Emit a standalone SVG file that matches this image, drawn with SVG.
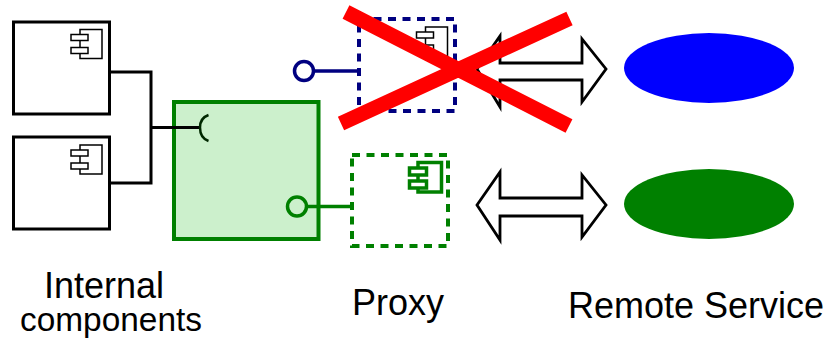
<svg xmlns="http://www.w3.org/2000/svg" width="828" height="338" viewBox="0 0 828 338">
<style>
.box{fill:#fff;stroke:#000;stroke-width:3}
.ic{fill:#fff;stroke:#000;stroke-width:1.500}
.gic{fill:#fff;stroke:#008000;stroke-width:3.500}
.arrow{fill:#fff;stroke:#000;stroke-width:2.800}
.wire{fill:none;stroke:#000;stroke-width:3}
.gw{fill:none;stroke:#008000;stroke-width:3.500}
.bw{fill:none;stroke:#000080;stroke-width:3.500}
.t{font-family:"Liberation Sans",Arial,sans-serif;font-size:36px;fill:#000;text-anchor:middle}
.x{stroke:#f00;stroke-width:15;fill:none}
</style>
<defs>
<g id="icon"><path class="ic" d="M0 0H22V29H0Z"/><rect class="ic" x="-9" y="5" width="17" height="6"/><rect class="ic" x="-9" y="18" width="17" height="6"/></g>
</defs>
<g id="internal-1"><rect class="box" x="13.500" y="22" width="96" height="92"/><use href="#icon" x="80" y="29.500"/></g>
<g id="internal-2"><rect class="box" x="13.500" y="137" width="96" height="92"/><use href="#icon" x="80" y="145"/></g>
<g id="main"><rect x="174" y="102" width="144.500" height="137" fill="#ccf0cc" stroke="#008000" stroke-width="4"/></g>
<g id="connectors">
<path class="wire" d="M110 72H151V183H110M151 127.500H199"/>
<path d="M208.500 115Q200 118 200 127.500Q200 138 208.500 141" fill="none" stroke="#002800" stroke-width="2.500"/>
<path class="gw" d="M306 206.500H352"/>
<circle class="gw" cx="297" cy="206.500" r="9.500"/>
<path class="bw" d="M313 71H359"/>
<circle class="bw" cx="304" cy="71" r="9.500"/>
</g>
<g id="proxy-blue"><rect x="359" y="19" width="96" height="92" fill="none" stroke="#000080" stroke-width="4" stroke-dasharray="8 6.500"/><use href="#icon" x="425.500" y="27"/></g>
<g id="proxy-green"><rect x="352" y="155" width="96" height="91" fill="none" stroke="#008000" stroke-width="4" stroke-dasharray="8 6.500"/>
<path class="gic" d="M418 162.500H441.500V192H418Z"/><rect class="gic" x="409.500" y="168" width="17" height="7"/><rect class="gic" x="409.500" y="181" width="17" height="7"/></g>
<g id="arrow-top"><path class="arrow" d="M477 69L500 36V63H582V39L606 69L582 102V80H500V107Z"/></g>
<g id="arrow-bottom"><path class="arrow" d="M477 205L500 172V198H582V175L606 205L582 237V216H500V240Z"/></g>
<g id="remote-blue"><ellipse cx="709" cy="68" rx="85" ry="35" fill="#00f"/></g>
<g id="remote-green"><ellipse cx="709" cy="204" rx="85" ry="35" fill="#008000"/></g>
<g id="cross"><path class="x" d="M346 12L569 126M341 123.500L569.500 18.500"/></g>
<g id="labels">
<text class="t" x="104" y="298">Internal</text>
<text class="t" x="111" y="331" style="font-size:34px" textLength="182" lengthAdjust="spacingAndGlyphs">components</text>
<text class="t" x="398" y="315">Proxy</text>
<text class="t" x="696" y="318">Remote Service</text>
</g>
</svg>
